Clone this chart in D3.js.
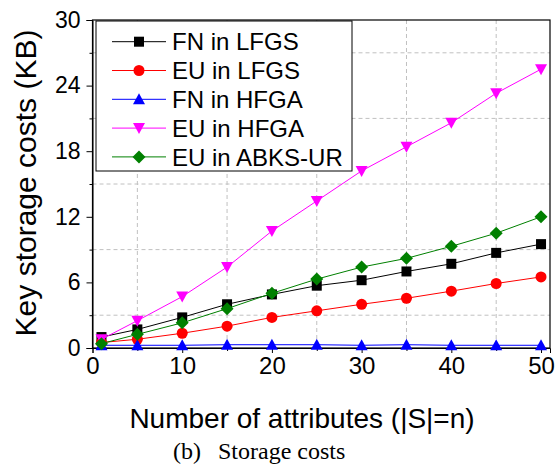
<!doctype html>
<html>
<head>
<meta charset="utf-8">
<title>Storage costs</title>
<script src="https://cdnjs.cloudflare.com/ajax/libs/d3/7.8.5/d3.min.js"></script>
<style>
  body { margin: 0; background: #fff; }
</style>
</head>
<body>
<div id="chart"></div>
<script>
// data
const attrs = [1, 5, 10, 15, 20, 25, 30, 35, 40, 45, 50];
const fnLFGS = [1.0, 1.7, 2.8, 4.0, 4.9, 5.7, 6.2, 7.0, 7.7, 8.7, 9.5];
const euLFGS = [0.5, 0.8, 1.35, 2.0, 2.8, 3.4, 4.0, 4.55, 5.2, 5.9, 6.5];
const fnHFGA = [0.25, 0.25, 0.25, 0.3, 0.3, 0.3, 0.25, 0.3, 0.25, 0.25, 0.25];
const euHFGA = [0.8, 2.5, 4.7, 7.4, 10.7, 13.45, 16.2, 18.4, 20.6, 23.3, 25.5];
const euABKS = [0.4, 1.25, 2.3, 3.6, 5.0, 6.3, 7.4, 8.2, 9.3, 10.5, 12.0];
const seriesNames = ["FN in LFGS", "EU in LFGS", "FN in HFGA", "EU in HFGA", "EU in ABKS-UR"];
const xTicks = [0, 10, 20, 30, 40, 50];
const yTicks = [0, 6, 12, 18, 24, 30];

const series = [
  { name: seriesNames[0], values: fnLFGS, color: "#000000", shape: "square" },
  { name: seriesNames[1], values: euLFGS, color: "#ff0000", shape: "circle" },
  { name: seriesNames[2], values: fnHFGA, color: "#0000ff", shape: "up" },
  { name: seriesNames[3], values: euHFGA, color: "#ff00ff", shape: "down" },
  { name: seriesNames[4], values: euABKS, color: "#008000", shape: "diamond" }
];

const SANS = "Liberation Sans, Arial, sans-serif";
const SERIF = "Liberation Serif, Times New Roman, serif";
const W = 558, H = 468;
const pLeft = 92.5, pRight = 550, pTop = 20, pBottom = 348;

const svg = d3.select("#chart").append("svg")
  .attr("width", W).attr("height", H);

const x = d3.scaleLinear().domain([0, 51]).range([pLeft, pRight]);
const y = d3.scaleLinear().domain([0, 30]).range([pBottom, pTop]);

// dashed grid at the minor ticks
const g = svg.append("g");
g.selectAll(".gx").data([5, 15, 25, 35, 45]).join("line")
  .attr("x1", d => x(d)).attr("x2", d => x(d))
  .attr("y1", pTop).attr("y2", pBottom)
  .attr("stroke", "#c0c0c0").attr("stroke-dasharray", "4,3");
g.selectAll(".gy").data([3, 9, 15, 21, 27]).join("line")
  .attr("x1", pLeft).attr("x2", pRight)
  .attr("y1", d => y(d)).attr("y2", d => y(d))
  .attr("stroke", "#c0c0c0").attr("stroke-dasharray", "4,3");

// axes
const xAx = svg.append("g").attr("transform", `translate(0,${pBottom})`)
  .call(d3.axisBottom(x).tickValues(xTicks).tickSize(5).tickPadding(4));
xAx.selectAll(".tick text").attr("font-size", 24);
svg.append("g").attr("transform", `translate(0,${pBottom})`)
  .call(d3.axisBottom(x).tickValues([5, 15, 25, 35, 45]).tickSize(3).tickFormat(""))
  .select(".domain").remove();
const yAx = svg.append("g").attr("transform", `translate(${pLeft},0)`)
  .call(d3.axisLeft(y).tickValues(yTicks).tickSize(6).tickPadding(6));
yAx.selectAll(".tick text").attr("font-size", 23);
svg.append("g").attr("transform", `translate(${pLeft},0)`)
  .call(d3.axisLeft(y).tickValues([3, 9, 15, 21, 27]).tickSize(3).tickFormat(""))
  .select(".domain").remove();

svg.selectAll(".tick text").attr("fill", "#000").attr("font-family", SANS);
svg.selectAll(".domain").attr("stroke", "#000");

// frame
svg.append("rect").attr("x", pLeft).attr("y", pTop)
  .attr("width", pRight - pLeft).attr("height", pBottom - pTop)
  .attr("fill", "none").attr("stroke", "#000").attr("stroke-width", 1.2);

function marker(sel, shape, color) {
  if (shape === "circle") {
    sel.append("circle").attr("r", 5.5).attr("fill", color);
  } else if (shape === "square") {
    sel.append("rect").attr("x", -5).attr("y", -5).attr("width", 10).attr("height", 10).attr("fill", color);
  } else if (shape === "up") {
    sel.append("path").attr("d", "M0,-6L6,5L-6,5Z").attr("fill", color);
  } else if (shape === "down") {
    sel.append("path").attr("d", "M0,6L6,-5L-6,-5Z").attr("fill", color);
  } else {
    sel.append("path").attr("d", "M0,-6.5L6.5,0L0,6.5L-6.5,0Z").attr("fill", color);
  }
}

const line = d3.line().x(d => x(d[0])).y(d => y(d[1]));

series.forEach(s => {
  const pts = attrs.map((a, i) => [a, s.values[i]]);
  svg.append("path").datum(pts).attr("d", line)
    .attr("fill", "none").attr("stroke", s.color).attr("stroke-width", 1);
  svg.append("g").selectAll("g").data(pts).join("g")
    .attr("transform", d => `translate(${x(d[0])},${y(d[1])})`)
    .each(function () { marker(d3.select(this), s.shape, s.color); });
});

// legend
const lg = svg.append("g");
lg.append("rect").attr("x", 96).attr("y", 21).attr("width", 256).attr("height", 150)
  .attr("fill", "#fff").attr("stroke", "#000").attr("stroke-width", 1);
series.forEach((s, i) => {
  const cy = 41.7 + i * 28.8;
  const row = lg.append("g");
  row.append("line").attr("x1", 112).attr("x2", 166).attr("y1", cy).attr("y2", cy)
    .attr("stroke", s.color).attr("stroke-width", 1);
  const m = row.append("g").attr("transform", `translate(139,${cy})`);
  marker(m, s.shape, s.color);
  row.append("text").attr("x", 172).attr("y", cy).attr("dy", "0.36em")
    .attr("font-family", SANS).attr("font-size", 24).text(s.name);
});

// axis titles
svg.append("text").attr("x", 302).attr("y", 428)
  .attr("text-anchor", "middle").attr("font-family", SANS).attr("font-size", 28)
  .text("Number of attributes (|S|=n)");
svg.append("text")
  .attr("transform", `translate(36,183) rotate(-90)`)
  .attr("text-anchor", "middle").attr("font-family", SANS).attr("font-size", 30)
  .text("Key storage costs (KB)");

// caption
svg.append("text").attr("x", 173).attr("y", 459)
  .attr("font-family", SERIF).attr("font-size", 24).text("(b)");
svg.append("text").attr("x", 218).attr("y", 459)
  .attr("font-family", SERIF).attr("font-size", 24).text("Storage costs");
</script>
</body>
</html>
